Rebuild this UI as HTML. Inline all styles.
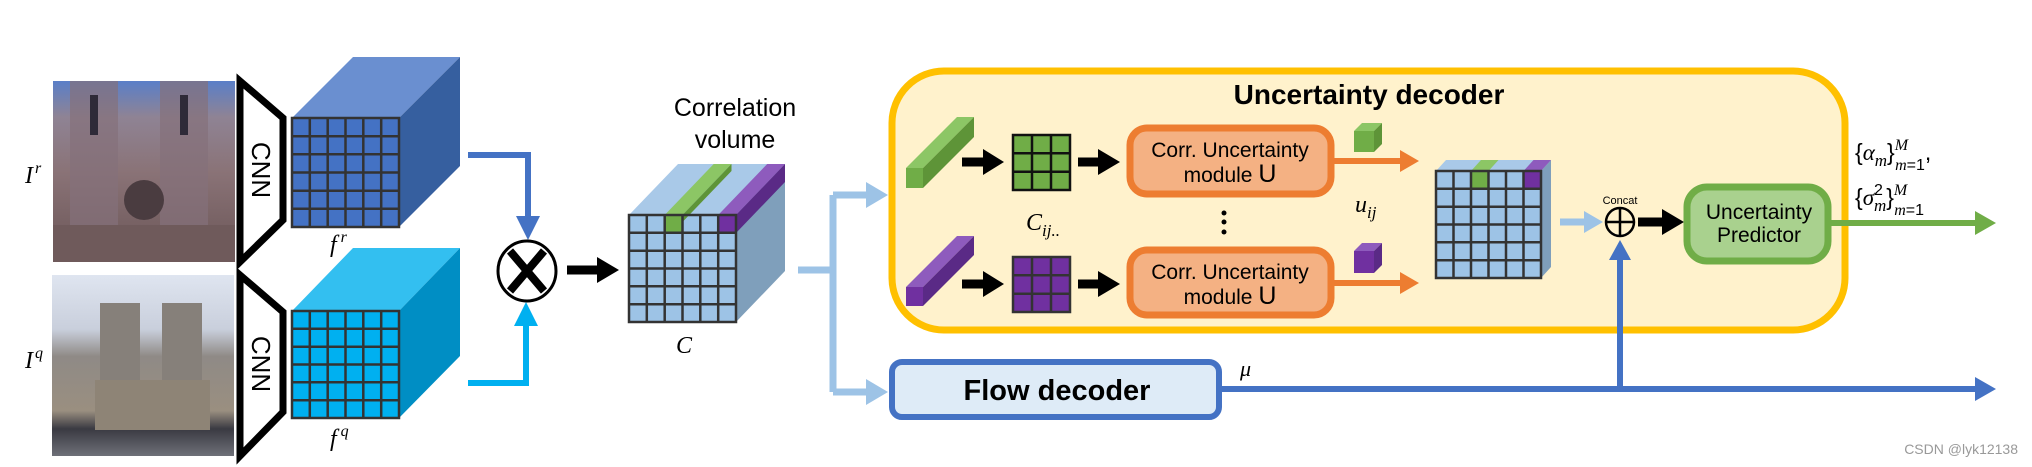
<!DOCTYPE html>
<html><head><meta charset="utf-8"><style>
html,body{margin:0;padding:0;background:#fff;}
svg{display:block;}
text{font-family:"Liberation Sans Narrow","Liberation Sans",sans-serif;}
.m{font-family:"Liberation Serif",serif;font-style:italic;}
</style></head><body>
<svg width="2032" height="467" viewBox="0 0 2032 467" xmlns="http://www.w3.org/2000/svg">
<defs>
<linearGradient id="p1" x1="0" y1="0" x2="0" y2="1">
<stop offset="0" stop-color="#5a7fc8"/><stop offset="0.2" stop-color="#8f8394"/><stop offset="0.5" stop-color="#8a7377"/><stop offset="1" stop-color="#6a5556"/></linearGradient>
<linearGradient id="p2" x1="0" y1="0" x2="0" y2="1">
<stop offset="0" stop-color="#dfe5f0"/><stop offset="0.3" stop-color="#c9cfdc"/><stop offset="0.45" stop-color="#8f8a86"/><stop offset="0.75" stop-color="#9a8f80"/><stop offset="0.85" stop-color="#3a3a42"/><stop offset="1" stop-color="#6e7078"/></linearGradient>
</defs>

<!-- photos -->
<rect x="53" y="81" width="182" height="181" fill="url(#p1)"/>
<rect x="70" y="81" width="48" height="170" fill="#85717a" opacity="0.7"/>
<rect x="160" y="81" width="48" height="170" fill="#85717a" opacity="0.7"/>
<rect x="90" y="95" width="8" height="40" fill="#2e2a38"/><rect x="180" y="95" width="8" height="40" fill="#2e2a38"/>
<circle cx="144" cy="200" r="20" fill="#4a3c40"/>
<rect x="53" y="225" width="182" height="37" fill="#6f5a5b"/>
<rect x="52" y="275" width="182" height="181" fill="url(#p2)"/>
<rect x="100" y="303" width="40" height="80" fill="#86807a"/>
<rect x="162" y="303" width="40" height="80" fill="#86807a"/>
<rect x="95" y="380" width="115" height="50" fill="#8e8476"/>

<text x="25" y="183" class="m" font-size="24">I<tspan font-size="16" dx="2" dy="-10">r</tspan></text>
<text x="25" y="368" class="m" font-size="24">I<tspan font-size="16" dx="2" dy="-10">q</tspan></text>

<!-- CNN -->
<polygon points="240,81 283,118 283,220 240,262" fill="#fff" stroke="#000" stroke-width="7"/>
<polygon points="240,275 283,312 283,412 240,456" fill="#fff" stroke="#000" stroke-width="7"/>
<text transform="translate(252,170) rotate(90)" font-size="26" text-anchor="middle">CNN</text>
<text transform="translate(252,364) rotate(90)" font-size="26" text-anchor="middle">CNN</text>

<!-- fr cube -->
<polygon points="292,118 399,118 460,57 353,57" fill="#6a8fd0"/>
<polygon points="399,118 460,57 460,166 399,227" fill="#365f9f"/>
<rect x="292" y="118" width="107" height="109" fill="#4472c4" stroke="#333" stroke-width="2.5"/>
<path d="M309.8 118V227M327.7 118V227M345.5 118V227M363.3 118V227M381.2 118V227M292 136.2H399M292 154.3H399M292 172.5H399M292 190.7H399M292 208.8H399" stroke="#333" stroke-width="2.5"/>
<text x="330" y="252" class="m" font-size="24">f<tspan font-size="16" dx="4" dy="-10">r</tspan></text>

<!-- fq cube -->
<polygon points="292,311 399,311 460,248 353,248" fill="#33bff0"/>
<polygon points="399,311 460,248 460,356 399,418" fill="#008ec4"/>
<rect x="292" y="311" width="107" height="107" fill="#00b0f0" stroke="#333" stroke-width="2.5"/>
<path d="M309.8 311V418M327.7 311V418M345.5 311V418M363.3 311V418M381.2 311V418M292 328.8H399M292 346.7H399M292 364.5H399M292 382.3H399M292 400.2H399" stroke="#333" stroke-width="2.5"/>
<text x="330" y="446" class="m" font-size="24">f<tspan font-size="16" dx="4" dy="-10">q</tspan></text>

<!-- arrows to otimes -->
<path d="M468 155H528V220" fill="none" stroke="#4472c4" stroke-width="6"/>
<polygon points="516,216 540,216 528,240" fill="#4472c4"/>
<path d="M468 383H526V322" fill="none" stroke="#00b0f0" stroke-width="6"/>
<polygon points="514,326 538,326 526,302" fill="#00b0f0"/>
<ellipse cx="527" cy="271" rx="29" ry="30" fill="#fff" stroke="#000" stroke-width="3"/>
<path d="M510 251L544 291M544 251L510 291" stroke="#000" stroke-width="8"/>
<path d="M567 270H600" stroke="#000" stroke-width="9"/>
<polygon points="597,257 619,270 597,283" fill="#000"/>

<!-- correlation volume -->
<text x="735" y="116" font-size="25" text-anchor="middle">Correlation</text>
<text x="735" y="148" font-size="25" text-anchor="middle">volume</text>
<polygon points="629,215 736,215 785,164 678,164" fill="#a9c9e8"/>
<polygon points="736,215 785,164 785,271 736,322" fill="#7f9fbb"/>
<rect x="629" y="215" width="107" height="107" fill="#9dc3e6"/>
<polygon points="664.7,215 682.5,215 731.5,164 713.7,164" fill="#8cc665"/>
<polygon points="682.5,215 682.5,222 731.5,171 731.5,164" fill="#5e9438"/>
<rect x="664.7" y="215" width="17.8" height="18" fill="#70ad47"/>
<polygon points="718.2,215 736,215 785,164 767.2,164" fill="#8e5bbd"/>
<polygon points="736,215 736,233 785,182 785,164" fill="#5a2a86"/>
<rect x="718.2" y="215" width="17.8" height="18" fill="#7030a0"/>
<rect x="629" y="215" width="107" height="107" fill="none" stroke="#333" stroke-width="2.5"/>
<path d="M646.8 215V322M664.7 215V322M682.5 215V322M700.3 215V322M718.2 215V322M629 232.8H736M629 250.7H736M629 268.5H736M629 286.3H736M629 304.2H736" stroke="#333" stroke-width="2.5"/>
<text x="676" y="353" class="m" font-size="24">C</text>

<!-- light blue split -->
<path d="M798 270H833M833 195V392M833 195H872M833 392H872" fill="none" stroke="#9dc3e6" stroke-width="7"/>
<polygon points="866,182 888,195 866,208" fill="#9dc3e6"/>
<polygon points="866,379 888,392 866,405" fill="#9dc3e6"/>

<!-- uncertainty decoder box -->
<rect x="892" y="71" width="953" height="259" rx="52" fill="#fff2cc" stroke="#ffc000" stroke-width="7"/>
<text x="1369" y="104" font-size="28" font-weight="bold" text-anchor="middle">Uncertainty decoder</text>

<!-- green bar -->
<polygon points="906,168 923,168 974,117 957,117" fill="#8cc665"/>
<polygon points="923,168 923,188 974,137 974,117" fill="#5e9438"/>
<rect x="906" y="168" width="17" height="20" fill="#70ad47"/>
<!-- purple bar -->
<polygon points="906,287 923,287 974,236 957,236" fill="#8e5bbd"/>
<polygon points="923,287 923,306 974,255 974,236" fill="#5a2a86"/>
<rect x="906" y="287" width="17" height="19" fill="#7030a0"/>

<!-- black arrows -->
<path d="M962 162H986M962 284H986M1078 162H1100M1078 284H1100" stroke="#000" stroke-width="9"/>
<polygon points="983,149 1004,162 983,175" fill="#000"/>
<polygon points="983,271 1004,284 983,297" fill="#000"/>
<polygon points="1098,149 1120,162 1098,175" fill="#000"/>
<polygon points="1098,271 1120,284 1098,297" fill="#000"/>

<!-- 3x3 grids -->
<rect x="1013" y="135" width="57" height="55" fill="#70ad47" stroke="#111" stroke-width="2.5"/>
<path d="M1032 135V190M1051 135V190M1013 153.3H1070M1013 171.7H1070" stroke="#111" stroke-width="2.5"/>
<rect x="1013" y="257" width="57" height="55" fill="#7030a0" stroke="#333" stroke-width="2.5"/>
<path d="M1032 257V312M1051 257V312M1013 275.3H1070M1013 293.7H1070" stroke="#333" stroke-width="2.5"/>
<text x="1026" y="230" class="m" font-size="24">C<tspan font-size="17" dy="6">ij..</tspan></text>

<!-- orange modules -->
<rect x="1130" y="128" width="201" height="66" rx="17" fill="#f4b183" stroke="#ed7d31" stroke-width="7"/>
<rect x="1130" y="250" width="201" height="65" rx="17" fill="#f4b183" stroke="#ed7d31" stroke-width="7"/>
<text x="1230" y="157" font-size="21" text-anchor="middle">Corr. Uncertainty</text>
<text x="1230" y="182" font-size="21" text-anchor="middle">module <tspan font-size="25">U</tspan></text>
<text x="1230" y="279" font-size="21" text-anchor="middle">Corr. Uncertainty</text>
<text x="1230" y="304" font-size="21" text-anchor="middle">module <tspan font-size="25">U</tspan></text>
<circle cx="1224" cy="213" r="2.5" fill="#000"/><circle cx="1224" cy="222" r="2.5" fill="#000"/><circle cx="1224" cy="232" r="2.5" fill="#000"/>

<path d="M1334 161H1402M1334 283H1402" stroke="#ed7d31" stroke-width="6"/>
<polygon points="1400,150 1419,161 1400,172" fill="#ed7d31"/>
<polygon points="1400,272 1419,283 1400,294" fill="#ed7d31"/>

<!-- small cubes -->
<polygon points="1354,131 1374,131 1382,123 1362,123" fill="#8cc665"/>
<polygon points="1374,131 1382,123 1382,144 1374,152" fill="#5e9438"/>
<rect x="1354" y="131" width="20" height="21" fill="#70ad47"/>
<polygon points="1354,251 1374,251 1382,243 1362,243" fill="#8e5bbd"/>
<polygon points="1374,251 1382,243 1382,265 1374,273" fill="#5a2a86"/>
<rect x="1354" y="251" width="20" height="22" fill="#7030a0"/>
<text x="1355" y="212" class="m" font-size="24">u<tspan font-size="17" dy="6">ij</tspan></text>

<!-- middle grid -->
<polygon points="1436,171 1541,171 1551,160 1446,160" fill="#a9c9e8"/>
<polygon points="1541,171 1551,160 1551,267 1541,278" fill="#7f9fbb"/>
<rect x="1436" y="171" width="105" height="107" fill="#9dc3e6"/>
<polygon points="1471,171 1488.5,171 1498.5,160 1481,160" fill="#8cc665"/>
<rect x="1471" y="171" width="17.5" height="18" fill="#70ad47"/>
<polygon points="1523.5,171 1541,171 1551,160 1533.5,160" fill="#8e5bbd"/>
<rect x="1523.5" y="171" width="17.5" height="18" fill="#7030a0"/>
<rect x="1436" y="171" width="105" height="107" fill="none" stroke="#333" stroke-width="2.5"/>
<path d="M1453.5 171V278M1471 171V278M1488.5 171V278M1506 171V278M1523.5 171V278M1436 188.8H1541M1436 206.7H1541M1436 224.5H1541M1436 242.3H1541M1436 260.2H1541" stroke="#333" stroke-width="2.5"/>

<!-- concat -->
<path d="M1560 222H1586" stroke="#9dc3e6" stroke-width="7"/>
<polygon points="1584,211 1603,222 1584,233" fill="#9dc3e6"/>
<text x="1620" y="204" font-size="11" text-anchor="middle">Concat</text>
<circle cx="1620" cy="222" r="14" fill="none" stroke="#000" stroke-width="2.5"/>
<path d="M1606 222H1634M1620 208V236" stroke="#000" stroke-width="2.5"/>
<path d="M1638 222H1665" stroke="#000" stroke-width="9"/>
<polygon points="1662,209 1684,222 1662,235" fill="#000"/>

<!-- predictor -->
<rect x="1687" y="187" width="141" height="74" rx="20" fill="#a9d18e" stroke="#70ad47" stroke-width="7"/>
<text x="1759" y="219" font-size="21" text-anchor="middle">Uncertainty</text>
<text x="1759" y="242" font-size="21" text-anchor="middle">Predictor</text>
<path d="M1831 223H1978" stroke="#70ad47" stroke-width="6"/>
<polygon points="1975,211 1996,223 1975,235" fill="#70ad47"/>

<text x="1855" y="160" font-size="23" font-family="Liberation Serif,serif">{<tspan class="m">α</tspan><tspan class="m" font-size="17" dy="6">m</tspan><tspan dy="-6">}</tspan><tspan class="m" font-size="16" dy="-10">M</tspan><tspan class="m" font-size="16" dx="-13" dy="20">m</tspan><tspan font-size="16">=1</tspan><tspan dy="-10">,</tspan></text>
<text x="1855" y="205" font-size="23" font-family="Liberation Serif,serif">{<tspan class="m">σ</tspan><tspan font-size="16" dy="-10">2</tspan><tspan class="m" font-size="17" dx="-9" dy="16">m</tspan><tspan dy="-6">}</tspan><tspan class="m" font-size="16" dy="-10">M</tspan><tspan class="m" font-size="16" dx="-13" dy="20">m</tspan><tspan font-size="16">=1</tspan></text>

<!-- flow decoder -->
<rect x="892" y="362" width="327" height="55" rx="10" fill="#deebf7" stroke="#4472c4" stroke-width="6"/>
<text x="1057" y="400" font-size="29" font-weight="bold" text-anchor="middle">Flow decoder</text>
<text x="1240" y="376" class="m" font-size="22">μ</text>
<path d="M1222 389H1978M1620 389V255" stroke="#4472c4" stroke-width="6"/>
<polygon points="1975,377 1996,389 1975,401" fill="#4472c4"/>
<polygon points="1609,260 1631,260 1620,240" fill="#4472c4"/>

<text x="2018" y="454" font-size="14" fill="#999" text-anchor="end">CSDN @lyk12138</text>
</svg>
</body></html>
